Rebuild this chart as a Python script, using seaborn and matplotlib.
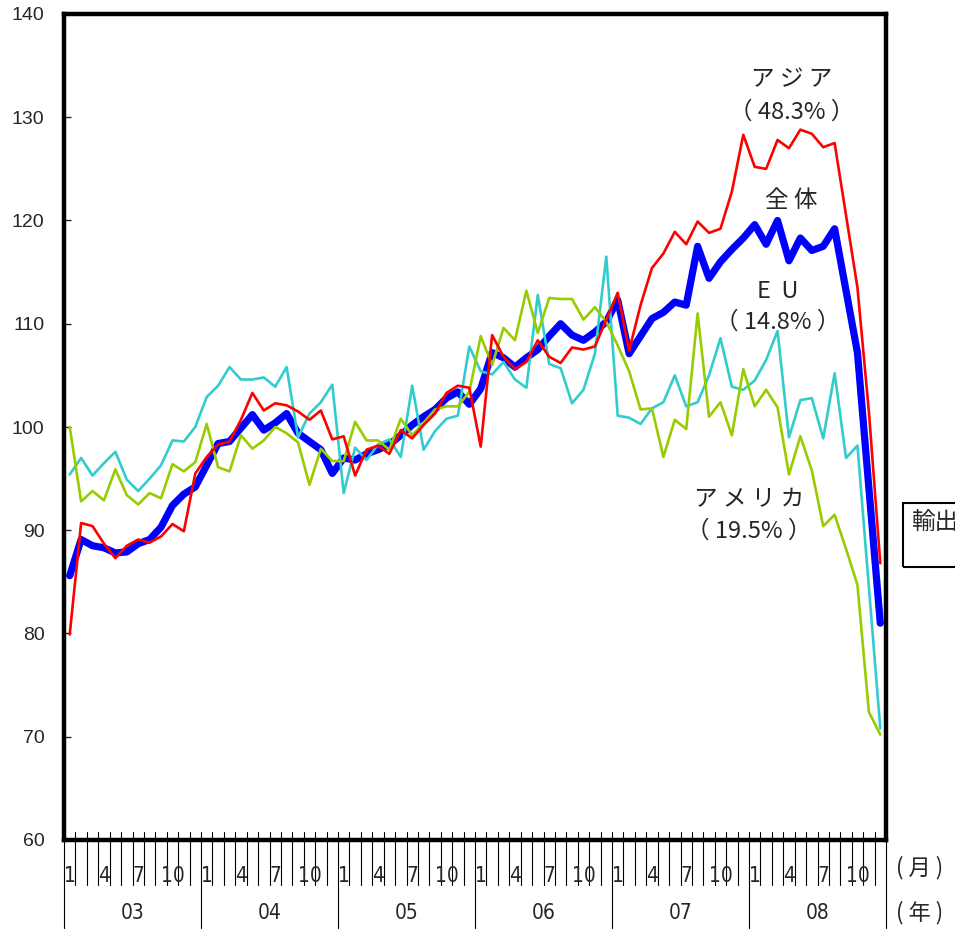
import numpy as np
import pandas as pd
import matplotlib
matplotlib.use('Agg')
import matplotlib.pyplot as plt
import seaborn as sns
from matplotlib.patches import Rectangle

years = ['03', '04', '05', '06', '07', '08']
month_labels = [1, 4, 7, 10]

total = [85.6, 89.1, 88.5, 88.3, 87.8, 87.9, 88.7, 89.1, 90.3, 92.4, 93.5, 94.2,
         96.3, 98.4, 98.6, 99.9, 101.2, 99.7, 100.4, 101.3, 99.4, 98.6, 97.8, 95.5,
         97.0, 96.8, 97.4, 97.8, 98.3, 99.2, 100.2, 101.0, 101.7, 102.8, 103.4, 102.2,
         103.7, 107.2, 106.7, 105.8, 106.7, 107.5, 108.8, 110.0, 108.9, 108.4, 109.2, 110.2,
         112.3, 107.1, 108.8, 110.5, 111.1, 112.1, 111.8, 117.5, 114.4, 116.0, 117.2, 118.3,
         119.6, 117.7, 120.0, 116.1, 118.3, 117.1, 117.5, 119.2, 113.2, 107.2, 94.1, 81.0]

asia = [79.9, 90.7, 90.4, 88.7, 87.3, 88.5, 89.1, 88.8, 89.4, 90.6, 89.9, 95.5,
        97.1, 98.3, 98.6, 100.7, 103.3, 101.6, 102.3, 102.1, 101.5, 100.7, 101.6, 98.8,
        99.1, 95.3, 97.8, 98.2, 97.4, 99.7, 98.9, 100.2, 101.3, 103.3, 104.0, 103.8,
        98.1, 108.9, 106.8, 105.6, 106.3, 108.4, 106.8, 106.2, 107.7, 107.5, 107.8, 110.4,
        113.0, 107.4, 111.8, 115.4, 116.8, 118.9, 117.7, 119.9, 118.8, 119.2, 122.8, 128.3,
        125.2, 125.0, 127.8, 127.0, 128.8, 128.4, 127.1, 127.5, 120.5, 113.5, 101.5, 86.8]

eu = [95.4, 97.0, 95.3, 96.5, 97.6, 94.9, 93.8, 95.0, 96.3, 98.7, 98.6, 100.0,
      102.9, 104.0, 105.8, 104.6, 104.6, 104.8, 103.9, 105.8, 99.0, 101.3, 102.4, 104.1,
      93.6, 98.0, 96.8, 98.3, 98.8, 97.1, 104.0, 97.8, 99.6, 100.8, 101.1, 107.8,
      105.4, 105.1, 106.3, 104.6, 103.8, 112.8, 106.1, 105.7, 102.3, 103.6, 107.1, 116.5,
      101.1, 100.9, 100.3, 101.8, 102.4, 105.0, 102.0, 102.4, 105.0, 108.6, 103.9, 103.6,
      104.5, 106.5, 109.3, 99.0, 102.6, 102.8, 98.9, 105.2, 97.0, 98.2, 84.5, 70.8]

america = [100.0, 92.8, 93.8, 92.9, 95.9, 93.4, 92.5, 93.6, 93.1, 96.4, 95.7, 96.6,
           100.3, 96.1, 95.7, 99.2, 97.9, 98.7, 100.0, 99.4, 98.5, 94.4, 97.9, 96.7,
           96.7, 100.5, 98.7, 98.7, 97.8, 100.8, 99.2, 100.4, 101.7, 102.0, 102.0, 103.4,
           108.8, 106.0, 109.6, 108.4, 113.2, 109.1, 112.5, 112.4, 112.4, 110.4, 111.6, 110.2,
           107.9, 105.4, 101.7, 101.8, 97.1, 100.7, 99.8, 111.0, 101.0, 102.4, 99.2, 105.6,
           102.0, 103.6, 101.9, 95.4, 99.1, 95.8, 90.4, 91.5, 88.2, 84.7, 72.4, 70.2]

sns.set_theme(style='white')
plt.rcParams['font.family'] = ['Liberation Sans', 'Noto Sans CJK JP', 'DejaVu Sans']

n = len(total)
idx = np.arange(n)
df = pd.DataFrame({'idx': idx, 'total': total, 'asia': asia, 'eu': eu, 'america': america})

fig = plt.figure(figsize=(9.55, 9.3), dpi=100)
ax = fig.add_axes([64 / 955, 90 / 930, 822 / 955, 826 / 930])

sns.lineplot(data=df, x='idx', y='total', ax=ax, color='#0000FF', linewidth=5.2, zorder=2)
sns.lineplot(data=df, x='idx', y='eu', ax=ax, color='#33CCCC', linewidth=1.9, zorder=3)
sns.lineplot(data=df, x='idx', y='america', ax=ax, color='#99CC00', linewidth=1.9, zorder=3)
sns.lineplot(data=df, x='idx', y='asia', ax=ax, color='#FF0000', linewidth=1.9, zorder=4)

ax.set_xlim(-0.5, n - 0.5)
ax.set_ylim(60, 140)
ax.set_yticks(range(60, 141, 10))
ax.set_xticks([])
ax.set_xlabel('')
ax.set_ylabel('')
ax.tick_params(axis='y', direction='in', length=5, width=1, left=True, labelsize=14, pad=14)
for s in ax.spines.values():
    s.set_linewidth(3.2)
    s.set_color('black')

tr = ax.get_xaxis_transform()
for b in range(n + 1):
    x = b - 0.5
    ybot = -0.1065 if b % 12 == 0 else -0.0545
    ax.plot([x, x], [ybot, 0.01], transform=tr, color='black', lw=0.8, clip_on=False, zorder=1)

narrow = ['DejaVu Sans']
for yi, yl in enumerate(years):
    for m in month_labels:
        ax.text(yi * 12 + m - 1, -0.043, str(m), transform=tr, ha='center', va='center',
                fontsize=15, family=narrow, fontstretch='condensed')
    ax.text(yi * 12 + 5.5, -0.0885, yl, transform=tr, ha='center', va='center',
            fontsize=15, family=narrow, fontstretch='condensed')

jp = ['Noto Sans CJK JP', 'DejaVu Sans']
fig.text(920 / 955, 1 - 868 / 930, '( 月 )', ha='center', va='center', fontsize=16, family=jp)
fig.text(920 / 955, 1 - 913 / 930, '( 年 )', ha='center', va='center', fontsize=16, family=jp)

# series labels
def lab(xpx, ypx, s):
    ax.text((xpx - 69.7) / 11.42, 140 - (ypx - 14) / 10.325, s, ha='center', va='center',
            fontsize=17, family=jp)

lab(792, 80, 'ア ジ ア')
lab(792, 112, '（ 48.3% ）')
lab(791, 201, '全 体')
lab(778, 291, 'E  U')
lab(778, 322, '（ 14.8% ）')
lab(749, 500, 'ア メ リ カ')
lab(749, 531, '（ 19.5% ）')

fig.patches.append(Rectangle((903 / 955, 1 - 567 / 930), 80 / 955, 64 / 930,
                             transform=fig.transFigure, fill=False, lw=1.5,
                             edgecolor='black'))
fig.text(911 / 955, 1 - 522 / 930, '輸出', ha='left', va='center', fontsize=17, family=jp)

fig.savefig('out.png', dpi=100)
